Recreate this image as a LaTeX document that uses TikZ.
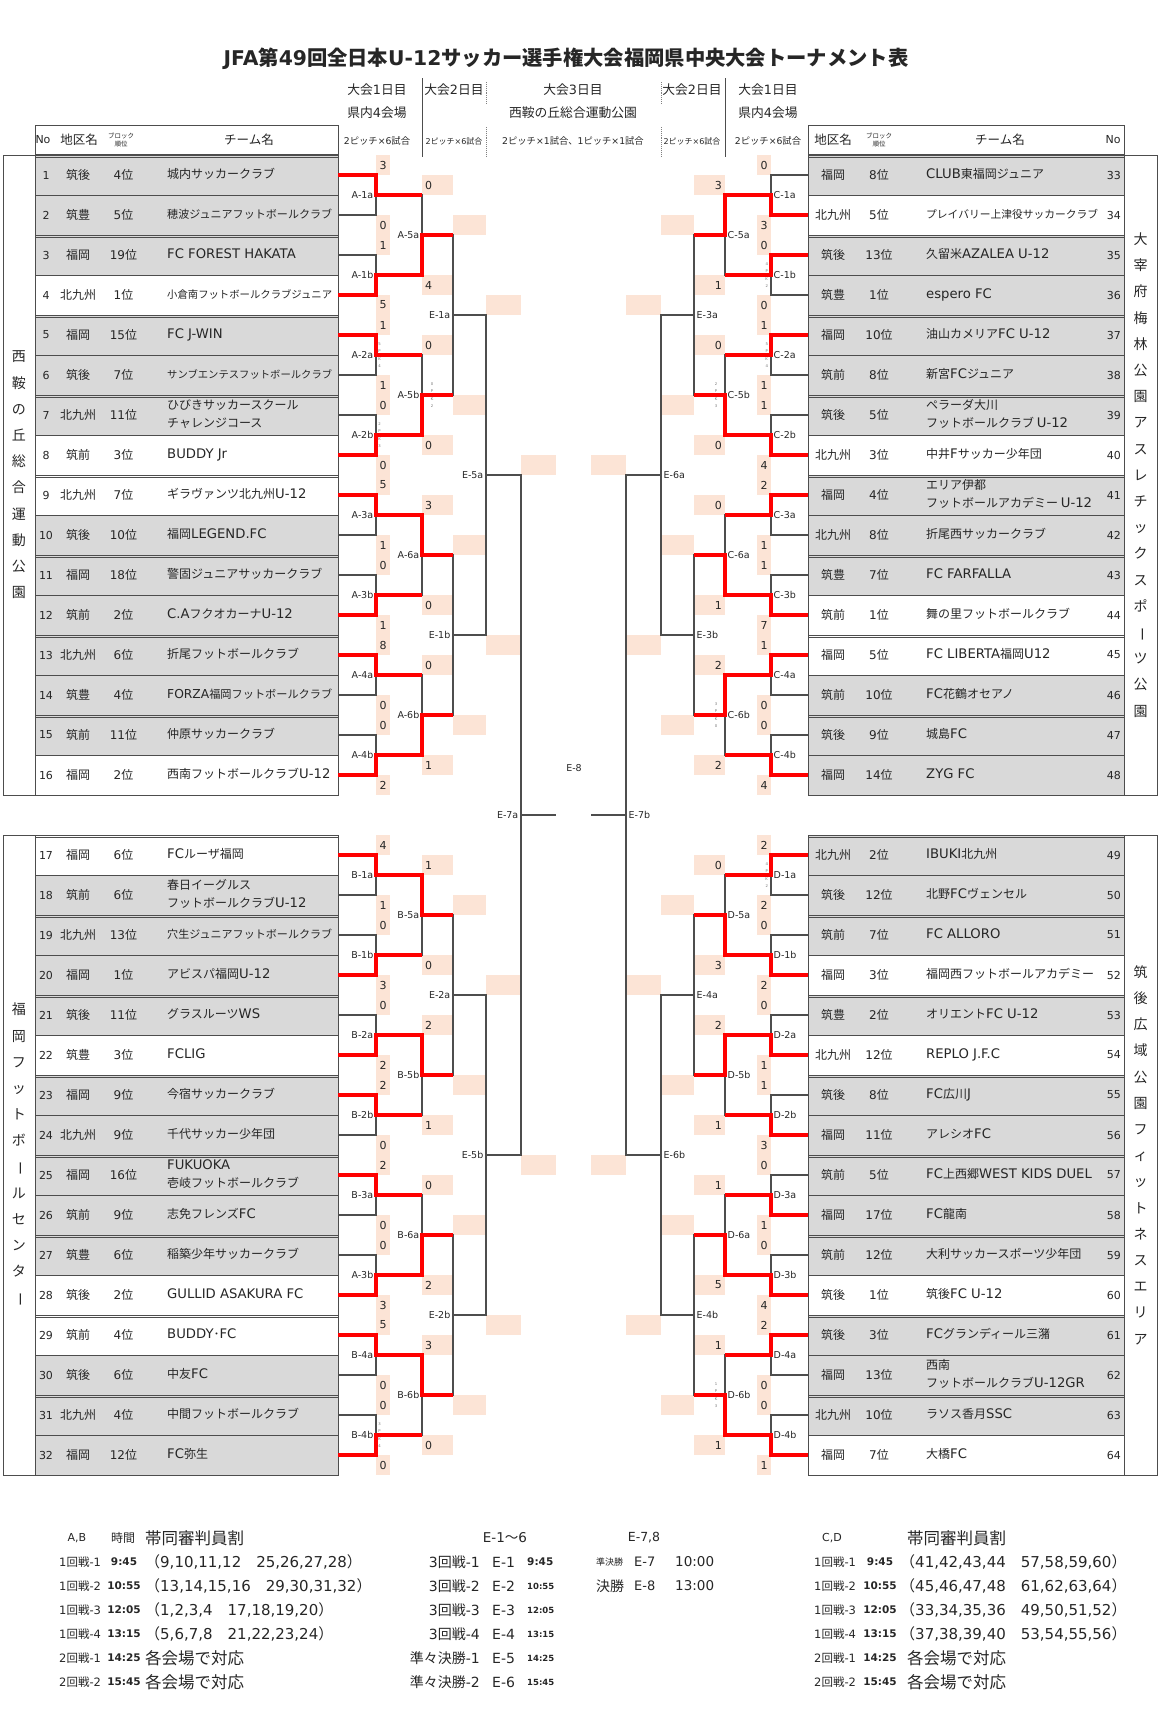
\documentclass[tikz,border=0pt]{standalone}
\usepackage{fontspec}
\usepackage{graphicx}
\setmainfont{DejaVu Sans}
\newfontfamily\cjkfont{Noto Sans CJK JP}
\newfontfamily\latfontN{DejaVu Sans}
\newfontfamily\latfontW{DejaVu Sans}[Scale=1.1]
\newcommand\latfont{\latfontN}
\usetikzlibrary{positioning,calc}

% Japanese characters in Noto Sans CJK JP, Latin in DejaVu Sans
\newXeTeXintercharclass\cjkcls
\newcount\cjkc
\cjkc="3000 \loop\XeTeXcharclass\cjkc=\cjkcls\advance\cjkc by 1 \ifnum\cjkc<"3100 \repeat
\cjkc="4E00 \loop\XeTeXcharclass\cjkc=\cjkcls\advance\cjkc by 1 \ifnum\cjkc<"A000 \repeat
\cjkc="FF00 \loop\XeTeXcharclass\cjkc=\cjkcls\advance\cjkc by 1 \ifnum\cjkc<"FFF0 \repeat
\XeTeXinterchartoks 0 \cjkcls = {\cjkfont}
\XeTeXinterchartoks 4095 \cjkcls = {\cjkfont}
\XeTeXinterchartoks \cjkcls 0 = {\latfont}
\XeTeXinterchartoks 4095 0 = {\latfont}
\XeTeXinterchartokenstate=1

\definecolor{scorebg}{HTML}{FCE4D6}
\definecolor{rowgray}{HTML}{D9D9D9}
\definecolor{winred}{HTML}{FF0000}
\definecolor{linegray}{HTML}{4D4D4D}
\definecolor{inkgray}{HTML}{262626}

\pgfdeclarelayer{bg}
\pgfdeclarelayer{fg}
\pgfsetlayers{bg,main,fg}

\newsavebox\namebox
\newcommand\fitname[2]{%
  \sbox\namebox{\begin{tabular}{@{}l@{}}#2\end{tabular}}%
  \ifdim\wd\namebox>#1\relax\resizebox{#1}{!}{\usebox\namebox}\else\usebox\namebox\fi}
\newcommand\vbar{\rotatebox[origin=c]{-90}{ー}}

\tikzset{
  teamL/.style={draw=linegray, line width=1pt, minimum width=303pt, minimum height=40pt, inner sep=0pt, outer sep=0pt},
  teamR/.style={teamL, minimum width=316pt},
  hdrL/.style={teamL, minimum height=29pt, fill=white},
  hdrR/.style={teamR, minimum height=29pt, fill=white},
  cell/.style={font=\fontsize{12}{18}\selectfont, text=inkgray, inner sep=0pt},
  nocell/.style={cell, font=\fontsize{11}{13}\selectfont},
  namecell/.style={cell, font={\let\latfont\latfontW\fontsize{12}{18}\selectfont}, anchor=west},
  hdrtxt/.style={font=\fontsize{12.5}{14}\selectfont, text=inkgray, inner sep=0pt},
  tinyhdr/.style={font=\fontsize{6.5}{8}\selectfont, align=center, text=inkgray, inner sep=0pt},
  coltxt/.style={font=\fontsize{12.8}{15}\selectfont, text=inkgray, inner sep=0pt},
  colsmall/.style={font=\fontsize{9.3}{11}\selectfont, text=inkgray, inner sep=0pt},
  colmini/.style={font=\fontsize{8}{10}\selectfont, text=inkgray, inner sep=0pt},
  wire/.style={draw=linegray, line width=1.3pt},
  winline/.style={draw=winred, line width=3.2pt},
  rowrule/.style={draw=linegray, line width=0.9pt},
  outerframe/.style={draw=linegray, line width=1pt},
  sepdot/.style={draw=gray, line width=0.9pt, densely dotted},
  boutlabel/.style={font=\fontsize{9.5}{10}\selectfont, text=inkgray, inner sep=2.5pt},
  score/.style={font=\fontsize{11}{12}\selectfont, text=inkgray, inner sep=0pt},
  pkmark/.style={font=\fontsize{3.8}{7.5}\selectfont, align=center, text=black!55, inner sep=0pt},
  vlab/.style={font=\fontsize{14}{26.2}\selectfont, align=center, text=inkgray, inner sep=0pt},
  lgsmall/.style={font=\fontsize{11.5}{13}\selectfont, text=inkgray, inner sep=0pt, anchor=west},
  lgtime/.style={font=\bfseries\fontsize{10.5}{12}\selectfont, text=inkgray, inner sep=0pt},
  lgbig/.style={font=\fontsize{15}{17}\selectfont, text=inkgray, inner sep=0pt, anchor=west},
  lgjp/.style={lgbig, font=\fontsize{16.5}{18}\selectfont},
  lgmid/.style={font=\fontsize{14}{16}\selectfont, text=inkgray, inner sep=0pt},
}

\begin{document}
\begin{tikzpicture}[x=1pt,y=-1pt]
  \useasboundingbox (0,0) rectangle (1162,1721);

  % Title
  \node[font=\bfseries\fontsize{20.3}{24}\selectfont, text=inkgray] (title) at (566,59)
    {JFA第49回全日本U-12サッカー選手権大会福岡県中央大会トーナメント表};

  % Column headings over the bracket
  \node[coltxt] at (377,90) {大会1日目};
  \node[coltxt] at (377,113) {県内4会場};
  \node[colsmall] at (377,141) {2ピッチ×6試合};
  \node[coltxt] at (454,90) {大会2日目};
  \node[colmini] at (454,141) {2ピッチ×6試合};
  \node[coltxt] at (573,90) {大会3日目};
  \node[coltxt] at (573,113) {西鞍の丘総合運動公園};
  \node[colsmall] at (573,141) {2ピッチ×1試合、1ピッチ×1試合};
  \node[coltxt] at (692,90) {大会2日目};
  \node[colmini] at (692,141) {2ピッチ×6試合};
  \node[coltxt] at (768,90) {大会1日目};
  \node[coltxt] at (768,113) {県内4会場};
  \node[colsmall] at (768,141) {2ピッチ×6試合};
  \draw[wire, line width=1pt] (422,78) -- (422,157);
  \draw[wire, line width=1pt] (725,78) -- (725,157);
  \draw[sepdot] (486,82) -- (486,104) (486,127) -- (486,157);
  \draw[sepdot] (661,82) -- (661,104) (661,127) -- (661,157);

  % Table headers
  \node[hdrL] (hL) at (186.5,139.5) {};
  \node[hdrtxt, font=\fontsize{11}{13}\selectfont] at (43,140) {No};
  \node[hdrtxt] at (79,140) {地区名};
  \node[tinyhdr] at (121,140) {ブロック\\順位};
  \node[hdrtxt] at (249,140) {チーム名};
  \node[hdrR] (hR) at (966,139.5) {};
  \node[hdrtxt] at (833,140) {地区名};
  \node[tinyhdr] at (879,140) {ブロック\\順位};
  \node[hdrtxt] at (1000,140) {チーム名};
  \node[hdrtxt, font=\fontsize{11}{13}\selectfont] at (1113,140) {No};

  % Venue frames
  \draw[outerframe] (3,155) rectangle (35,795);
  \draw[outerframe] (3,835) rectangle (35,1475);
  \draw[outerframe] (1124,155) rectangle (1157,795);
  \draw[outerframe] (1124,835) rectangle (1157,1475);
  \node[vlab] at (19,475) {西\\鞍\\の\\丘\\総\\合\\運\\動\\公\\園};
  \node[vlab] at (19,1155) {福\\岡\\フ\\ッ\\ト\\ボ\\\vbar\\ル\\セ\\ン\\タ\\\vbar};
  \node[vlab] at (1140.5,475) {大\\宰\\府\\梅\\林\\公\\園\\ア\\ス\\レ\\チ\\ッ\\ク\\ス\\ポ\\\vbar\\ツ\\公\\園};
  \node[vlab] at (1140.5,1155) {筑\\後\\広\\域\\公\\園\\フ\\ィ\\ッ\\ト\\ネ\\ス\\エ\\リ\\ア};

  % Teams, left
  \foreach \tn/\dist/\rank/\tname/\rowfill in {
    1/筑後/4位/城内サッカークラブ/rowgray,
    2/筑豊/5位/穂波ジュニアフットボールクラブ/rowgray,
    3/福岡/19位/FC FOREST HAKATA/rowgray,
    4/北九州/1位/小倉南フットボールクラブジュニア/white,
    5/福岡/15位/FC J-WIN/rowgray,
    6/筑後/7位/サンブエンテスフットボールクラブ/rowgray,
    7/北九州/11位/{ひびきサッカースクール\\チャレンジコース}/rowgray,
    8/筑前/3位/BUDDY Jr/white,
    9/北九州/7位/ギラヴァンツ北九州U-12/white,
    10/筑後/10位/福岡LEGEND.FC/rowgray,
    11/福岡/18位/警固ジュニアサッカークラブ/rowgray,
    12/筑前/2位/C.AフクオカーナU-12/rowgray,
    13/北九州/6位/折尾フットボールクラブ/rowgray,
    14/筑豊/4位/FORZA福岡フットボールクラブ/rowgray,
    15/筑前/11位/仲原サッカークラブ/rowgray,
    16/福岡/2位/西南フットボールクラブU-12/white,
    17/福岡/6位/FCルーザ福岡/white,
    18/筑前/6位/{春日イーグルス\\フットボールクラブU-12}/rowgray,
    19/北九州/13位/穴生ジュニアフットボールクラブ/rowgray,
    20/福岡/1位/アビスパ福岡U-12/rowgray,
    21/筑後/11位/グラスルーツWS/rowgray,
    22/筑豊/3位/FCLIG/white,
    23/福岡/9位/今宿サッカークラブ/rowgray,
    24/北九州/9位/千代サッカー少年団/rowgray,
    25/福岡/16位/{FUKUOKA\\壱岐フットボールクラブ}/rowgray,
    26/筑前/9位/志免フレンズFC/rowgray,
    27/筑豊/6位/稲築少年サッカークラブ/rowgray,
    28/筑後/2位/GULLID ASAKURA FC/white,
    29/筑前/4位/BUDDY･FC/white,
    30/筑後/6位/中友FC/rowgray,
    31/北九州/4位/中間フットボールクラブ/rowgray,
    32/福岡/12位/FC弥生/rowgray}{
    \pgfmathsetmacro\yy{135+40*\tn+40*(\tn>16)}
    \node[teamL, fill=\rowfill] (t\tn) at (186.5,\yy) {};
    \node[nocell] at (46,\yy) {\tn};
    \node[cell] at (78,\yy) {\dist};
    \node[cell] at (123.5,\yy) {\rank};
    \node[namecell] at (167,\yy) {\fitname{165pt}{\tname}};
    \ifodd\tn \draw[rowrule] (35,\yy-17.7) -- (338,\yy-17.7); \fi
  }

  % Teams, right
  \foreach \tn/\dist/\rank/\tname/\rowfill in {
    33/福岡/8位/CLUB東福岡ジュニア/rowgray,
    34/北九州/5位/プレイバリー上津役サッカークラブ/white,
    35/筑後/13位/久留米AZALEA U-12/rowgray,
    36/筑豊/1位/espero FC/rowgray,
    37/福岡/10位/油山カメリアFC U-12/rowgray,
    38/筑前/8位/新宮FCジュニア/rowgray,
    39/筑後/5位/{ペラーダ大川\\フットボールクラブ U-12}/rowgray,
    40/北九州/3位/中井Fサッカー少年団/white,
    41/福岡/4位/{エリア伊都\\フットボールアカデミー U-12}/rowgray,
    42/北九州/8位/折尾西サッカークラブ/rowgray,
    43/筑豊/7位/FC FARFALLA/rowgray,
    44/筑前/1位/舞の里フットボールクラブ/white,
    45/福岡/5位/FC LIBERTA福岡U12/white,
    46/筑前/10位/FC花鶴オセアノ/rowgray,
    47/筑後/9位/城島FC/rowgray,
    48/福岡/14位/ZYG FC/rowgray,
    49/北九州/2位/IBUKI北九州/rowgray,
    50/筑後/12位/北野FCヴェンセル/rowgray,
    51/筑前/7位/FC ALLORO/rowgray,
    52/福岡/3位/福岡西フットボールアカデミー/white,
    53/筑豊/2位/オリエントFC U-12/rowgray,
    54/北九州/12位/REPLO J.F.C/white,
    55/筑後/8位/FC広川J/rowgray,
    56/福岡/11位/アレシオFC/rowgray,
    57/筑前/5位/FC上西郷WEST KIDS DUEL/rowgray,
    58/福岡/17位/FC龍南/rowgray,
    59/筑前/12位/大利サッカースポーツ少年団/rowgray,
    60/筑後/1位/筑後FC U-12/white,
    61/筑後/3位/FCグランディール三潴/rowgray,
    62/福岡/13位/{西南\\フットボールクラブU-12GR}/rowgray,
    63/北九州/10位/ラソス香月SSC/rowgray,
    64/福岡/7位/大橋FC/white}{
    \pgfmathsetmacro\yy{135+40*(\tn-32)+40*(\tn>48)}
    \node[teamR, fill=\rowfill] (t\tn) at (966,\yy) {};
    \node[cell] at (833,\yy) {\dist};
    \node[cell] at (879,\yy) {\rank};
    \node[namecell] at (926,\yy) {\fitname{172pt}{\tname}};
    \node[nocell, anchor=east] at (1121,\yy) {\tn};
    \ifodd\tn \draw[rowrule] (808,\yy-17.7) -- (1124,\yy-17.7); \fi
  }

  % Bout points and score cells
  \foreach \rd/\xv/\xn in {1/376/390,2/422/453,3/453/486,4/486/521,5/521/556}{
    \pgfmathtruncatemacro\cnt{32/2^\rd}
    \pgfmathtruncatemacro\hs{2^(\rd-1)}
    \foreach \mi in {1,...,\cnt}{
      \pgfmathtruncatemacro\fa{(\mi-1)*2*\hs+1}
      \pgfmathtruncatemacro\fb{\mi*2*\hs}
      \pgfmathtruncatemacro\ha{\fa+\hs-1}
      \pgfmathtruncatemacro\hb{\ha+1}
      \pgfmathsetmacro\yu{(270+40*(\fa+\ha)+40*(\fa>16)+40*(\ha>16))/2}
      \pgfmathsetmacro\yl{(270+40*(\hb+\fb)+40*(\hb>16)+40*(\fb>16))/2}
      \pgfmathsetmacro\ym{(\yu+\yl)/2}
      \coordinate (L\rd-\mi) at (\xv,\ym);
      \coordinate (R\rd-\mi) at (1147-\xv,\ym);
      \begin{pgfonlayer}{bg}
        \fill[scorebg] (\xv,\yu-20) rectangle (\xn,\yu);
        \fill[scorebg] (\xv,\yl) rectangle (\xn,\yl+20);
        \fill[scorebg] (1147-\xn,\yu-20) rectangle (1147-\xv,\yu);
        \fill[scorebg] (1147-\xn,\yl) rectangle (1147-\xv,\yl+20);
      \end{pgfonlayer}
    }
  }
  \coordinate (L6) at (556,815);
  \coordinate (R6) at (591,815);

  % Bracket lines
  \foreach \mi in {1,...,16}{
    \pgfmathtruncatemacro\upA{2*\mi-1}
    \pgfmathtruncatemacro\loA{2*\mi}
    \pgfmathtruncatemacro\upB{2*\mi+31}
    \pgfmathtruncatemacro\loB{2*\mi+32}
    \draw[wire] (t\upA.east) -| (L1-\mi) |- (t\loA.east);
    \draw[wire] (t\upB.west) -| (R1-\mi) |- (t\loB.west);
  }
  \foreach \rd in {2,...,5}{
    \pgfmathtruncatemacro\prv{\rd-1}
    \pgfmathtruncatemacro\cnt{32/2^\rd}
    \foreach \mi in {1,...,\cnt}{
      \pgfmathtruncatemacro\upA{2*\mi-1}
      \pgfmathtruncatemacro\loA{2*\mi}
      \draw[wire] (L\prv-\upA) -| (L\rd-\mi) |- (L\prv-\loA);
      \draw[wire] (R\prv-\upA) -| (R\rd-\mi) |- (R\prv-\loA);
    }
  }
  \draw[wire] (L5-1) -- (L6);
  \draw[wire] (R5-1) -- (R6);
  \node[boutlabel] at (574,768) {E-8};

  % 1st round, left
  \foreach \mi/\lab/\scu/\scl/\wn in {1/A-1a/3/0/1, 2/A-1b/1/5/2, 3/A-2a/1/1/1, 4/A-2b/0/0/2,
      5/A-3a/5/1/1, 6/A-3b/0/1/2, 7/A-4a/8/0/1, 8/A-4b/0/2/2, 9/B-1a/4/1/1, 10/B-1b/0/3/2,
      11/B-2a/0/2/2, 12/B-2b/2/0/1, 13/B-3a/2/0/1, 14/A-3b/0/3/2, 15/B-4a/5/0/1, 16/B-4b/0/0/2}{
    \pgfmathtruncatemacro\upA{2*\mi-1}
    \pgfmathtruncatemacro\loA{2*\mi}
    \pgfmathtruncatemacro\wt{2*\mi-2+\wn}
    \pgfmathtruncatemacro\nx{(\mi+1)/2}
    \begin{pgfonlayer}{fg}
      \draw[winline] (t\wt.east) -| (L1-\mi) -- (L1-\mi -| L2-\nx);
    \end{pgfonlayer}
    \node[boutlabel, anchor=east] at (L1-\mi) {\lab};
    \node[score, xshift=7pt, yshift=10pt] at (t\upA.east -| L1-\mi) {\scu};
    \node[score, xshift=7pt, yshift=-10pt] at (t\loA.east -| L1-\mi) {\scl};
  }

  % 1st round, right
  \foreach \mi/\lab/\scu/\scl/\wn in {1/C-1a/0/3/2, 2/C-1b/0/0/1, 3/C-2a/1/1/1, 4/C-2b/1/4/2,
      5/C-3a/2/1/1, 6/C-3b/1/7/2, 7/C-4a/1/0/1, 8/C-4b/0/4/2, 9/D-1a/2/2/1, 10/D-1b/0/2/2,
      11/D-2a/0/1/2, 12/D-2b/1/3/2, 13/D-3a/0/1/2, 14/D-3b/0/4/2, 15/D-4a/2/0/1, 16/D-4b/0/1/2}{
    \pgfmathtruncatemacro\upB{2*\mi+31}
    \pgfmathtruncatemacro\loB{2*\mi+32}
    \pgfmathtruncatemacro\wt{2*\mi+30+\wn}
    \pgfmathtruncatemacro\nx{(\mi+1)/2}
    \begin{pgfonlayer}{fg}
      \draw[winline] (t\wt.west) -| (R1-\mi) -- (R1-\mi -| R2-\nx);
    \end{pgfonlayer}
    \node[boutlabel, anchor=west] at (R1-\mi) {\lab};
    \node[score, xshift=-7pt, yshift=10pt] at (t\upB.west -| R1-\mi) {\scu};
    \node[score, xshift=-7pt, yshift=-10pt] at (t\loB.west -| R1-\mi) {\scl};
  }

  % 2nd round
  \foreach \mi/\lab/\scu/\scl/\wn in {1/A-5a/0/4/2, 2/A-5b/0/0/2, 3/A-6a/3/0/1, 4/A-6b/0/1/2,
      5/B-5a/1/0/1, 6/B-5b/2/1/1, 7/B-6a/0/2/2, 8/B-6b/3/0/1}{
    \pgfmathtruncatemacro\upA{2*\mi-1}
    \pgfmathtruncatemacro\loA{2*\mi}
    \pgfmathtruncatemacro\ws{2*\mi-2+\wn}
    \pgfmathtruncatemacro\nx{(\mi+1)/2}
    \begin{pgfonlayer}{fg}
      \draw[winline] (L1-\ws) -| (L2-\mi) -- (L2-\mi -| L3-\nx);
    \end{pgfonlayer}
    \node[boutlabel, anchor=east] at (L2-\mi) {\lab};
    \node[score, anchor=west, xshift=3pt, yshift=10pt] at (L1-\upA -| L2-\mi) {\scu};
    \node[score, anchor=west, xshift=3pt, yshift=-10pt] at (L1-\loA -| L2-\mi) {\scl};
  }
  \foreach \mi/\lab/\scu/\scl/\wn in {1/C-5a/3/1/1, 2/C-5b/0/0/2, 3/C-6a/0/1/2, 4/C-6b/2/2/1,
      5/D-5a/0/3/2, 6/D-5b/2/1/1, 7/D-6a/1/5/2, 8/D-6b/1/1/2}{
    \pgfmathtruncatemacro\upA{2*\mi-1}
    \pgfmathtruncatemacro\loA{2*\mi}
    \pgfmathtruncatemacro\ws{2*\mi-2+\wn}
    \pgfmathtruncatemacro\nx{(\mi+1)/2}
    \begin{pgfonlayer}{fg}
      \draw[winline] (R1-\ws) -| (R2-\mi) -- (R2-\mi -| R3-\nx);
    \end{pgfonlayer}
    \node[boutlabel, anchor=west] at (R2-\mi) {\lab};
    \node[score, anchor=east, xshift=-3pt, yshift=10pt] at (R1-\upA -| R2-\mi) {\scu};
    \node[score, anchor=east, xshift=-3pt, yshift=-10pt] at (R1-\loA -| R2-\mi) {\scl};
  }

  % Later rounds
  \foreach \rd/\mi/\lab in {3/1/E-1a, 3/2/E-1b, 3/3/E-2a, 3/4/E-2b, 4/1/E-5a, 4/2/E-5b, 5/1/E-7a}
    \node[boutlabel, anchor=east] at (L\rd-\mi) {\lab};
  \foreach \rd/\mi/\lab in {3/1/E-3a, 3/2/E-3b, 3/3/E-4a, 3/4/E-4b, 4/1/E-6a, 4/2/E-6b, 5/1/E-7b}
    \node[boutlabel, anchor=west] at (R\rd-\mi) {\lab};

  % PK marks
  \foreach \rd/\mi/\sx/\pa/\pb in {1/3/3.5/5/4, 1/4/3.5/2/3, 1/16/3.5/3/4, 2/2/10/0/2}
    \node[pkmark, xshift=\sx pt] at (L\rd-\mi) {\pa\\P\\K\\\pb};
  \foreach \rd/\mi/\sx/\pa/\pb in {1/2/-4.3/4/2, 1/3/-4.3/5/4, 1/9/-4.3/4/2, 2/2/-9/2/3, 2/4/-9/3/0, 2/8/-9/1/3}
    \node[pkmark, xshift=\sx pt] at (R\rd-\mi) {\pa\\P\\K\\\pb};

  % Schedule
  \node[lgsmall, anchor=center, font=\fontsize{11}{13}\selectfont] at (77,1538) {A,B};
  \node[lgsmall, anchor=center, font=\fontsize{12}{13}\selectfont] at (123,1538) {時間};
  \node[lgjp] at (145,1538) {帯同審判員割};
  \node[lgmid, font=\fontsize{13.5}{16}\selectfont] at (505,1538) {E-1〜6};
  \node[lgmid, font=\fontsize{12.5}{16}\selectfont] at (644,1538) {E-7,8};
  \node[lgsmall, anchor=center, font=\fontsize{11}{13}\selectfont] at (832,1538) {C,D};
  \node[lgjp] at (907,1538) {帯同審判員割};
  \foreach \ln/\rl/\tm/\grp/\gst in {1/1回戦-1/9:45/{（9,10,11,12　25,26,27,28）}/lgbig,
      2/1回戦-2/10:55/{（13,14,15,16　29,30,31,32）}/lgbig, 3/1回戦-3/12:05/{（1,2,3,4　17,18,19,20）}/lgbig,
      4/1回戦-4/13:15/{（5,6,7,8　21,22,23,24）}/lgbig, 5/2回戦-1/14:25/各会場で対応/lgjp, 6/2回戦-2/15:45/各会場で対応/lgjp}{
    \pgfmathsetmacro\yy{1538+24*\ln}
    \node[lgsmall] at (59,\yy) {\rl};
    \node[lgtime] at (124,\yy) {\tm};
    \node[\gst] at (145,\yy) {\grp};
  }
  \foreach \ln/\rl/\grp/\tm/\tsz in {1/3回戦-1/E-1/9:45/10.5, 2/3回戦-2/E-2/10:55/8.5, 3/3回戦-3/E-3/12:05/8.5,
      4/3回戦-4/E-4/13:15/8.5, 5/準々決勝-1/E-5/14:25/8.5, 6/準々決勝-2/E-6/15:45/8.5}{
    \pgfmathsetmacro\yy{1538+24*\ln}
    \node[lgmid, anchor=east] at (480,\yy) {\rl};
    \node[lgmid, anchor=west] at (492,\yy) {\grp};
    \node[lgtime, anchor=west, font=\bfseries\fontsize{\tsz}{12}\selectfont] at (527,\yy) {\tm};
  }
  \node[lgsmall, font=\fontsize{9}{10}\selectfont] at (596,1562) {準決勝};
  \node[lgmid, anchor=west, font=\fontsize{13}{16}\selectfont] at (634,1562) {E-7};
  \node[lgmid, anchor=west, font=\fontsize{13.5}{16}\selectfont] at (675,1562) {10:00};
  \node[lgmid, anchor=west] at (596,1586) {決勝};
  \node[lgmid, anchor=west, font=\fontsize{13}{16}\selectfont] at (634,1586) {E-8};
  \node[lgmid, anchor=west, font=\fontsize{13.5}{16}\selectfont] at (675,1586) {13:00};
  \foreach \ln/\rl/\tm/\grp/\gx/\gst in {1/1回戦-1/9:45/{（41,42,43,44　57,58,59,60）}/900/lgbig,
      2/1回戦-2/10:55/{（45,46,47,48　61,62,63,64）}/900/lgbig, 3/1回戦-3/12:05/{（33,34,35,36　49,50,51,52）}/900/lgbig,
      4/1回戦-4/13:15/{（37,38,39,40　53,54,55,56）}/900/lgbig, 5/2回戦-1/14:25/各会場で対応/907/lgjp, 6/2回戦-2/15:45/各会場で対応/907/lgjp}{
    \pgfmathsetmacro\yy{1538+24*\ln}
    \node[lgsmall] at (814,\yy) {\rl};
    \node[lgtime] at (880,\yy) {\tm};
    \node[\gst] at (\gx,\yy) {\grp};
  }
\end{tikzpicture}
\end{document}
